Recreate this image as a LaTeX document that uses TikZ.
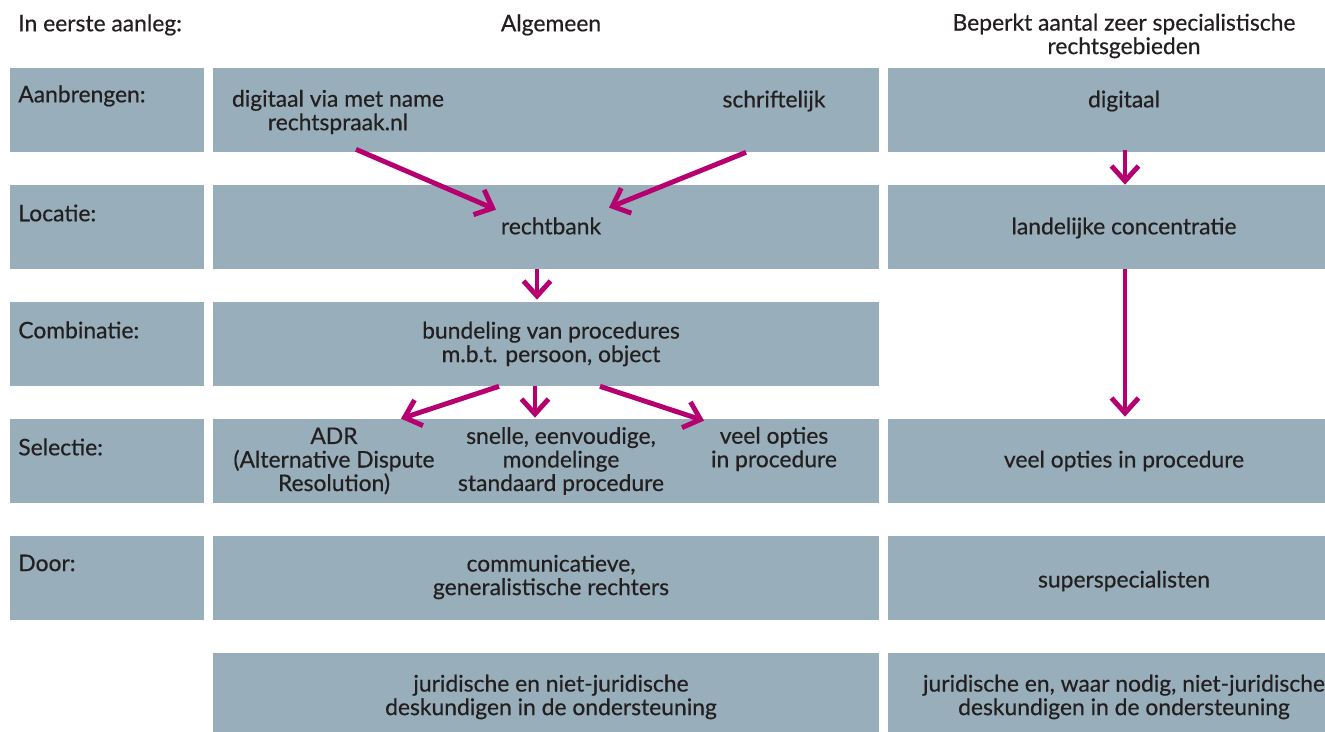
\documentclass[tikz,border=0pt]{standalone}
\usepackage{fontspec}
\setmainfont{Lato}[FakeBold=0.5]
\usepackage{xcolor}
\usepackage{tikz}
\usetikzlibrary{arrows.meta,calc}

\definecolor{vakblauw}{RGB}{152,175,187}
\definecolor{pijlroze}{RGB}{182,0,112}
\definecolor{tekstgrijs}{RGB}{35,31,32}

\begin{document}
\begin{tikzpicture}[x=0.02cm,y=-0.02cm]
        % Define the styles for boxes, texts and arrows
        \tikzstyle{vak}=[fill=vakblauw, inner sep=0pt, minimum height=1.68cm];
        \tikzstyle{vaklinks}=[vak, minimum width=3.88cm];
        \tikzstyle{vakmidden}=[vak, minimum width=13.32cm];
        \tikzstyle{vakrechts}=[vak, minimum width=8.74cm];
        \tikzstyle{tekst}=[text=tekstgrijs, align=center, inner sep=0pt, font=\fontsize{13}{13.4}\selectfont];
        \tikzstyle{rijnaam}=[tekst, anchor=west, align=left];
        \tikzstyle{pijl}=[draw=pijlroze, line width=2.8pt, -{Straight Barb[length=3mm,width=5.4mm]}];

        % Canvas
        \useasboundingbox (0,0) rectangle (1325,732);

        % Boxes of the left column
        \node[vaklinks] (l1) at (107,110) {};
        \node[vaklinks] (l2) at (107,227) {};
        \node[vaklinks] (l3) at (107,344) {};
        \node[vaklinks] (l4) at (107,461) {};
        \node[vaklinks] (l5) at (107,578) {};

        % Boxes of the middle column
        \node[vakmidden] (m1) at (546,110) {};
        \node[vakmidden] (m2) at (546,227) {};
        \node[vakmidden] (m3) at (546,344) {};
        \node[vakmidden] (m4) at (546,461) {};
        \node[vakmidden] (m5) at (546,578) {};
        \node[vakmidden] (m6) at (546,695) {};

        % Boxes of the right column (no box in the third row)
        \node[vakrechts] (r1) at (1106.5,110) {};
        \node[vakrechts] (r2) at (1106.5,227) {};
        \node[vakrechts] (r4) at (1106.5,461) {};
        \node[vakrechts] (r5) at (1106.5,578) {};
        \node[vakrechts] (r6) at (1106.5,695) {};

        % Headers
        \node[rijnaam] (kopLinks) at (18,25) {In eerste aanleg:};
        \node[tekst] (kopMidden) at (551,25) {Algemeen};
        \node[tekst] (kopRechts) at (1124,36) {Beperkt aantal zeer specialistische\\rechtsgebieden};

        % Row names
        \node[rijnaam] (naamAanbr) at (18,96) {Aanbrengen:};
        \node[rijnaam] (naamLocatie) at (18,213) {Locatie:};
        \node[rijnaam] (naamComb) at (18,330) {Combinatie:};
        \node[rijnaam] (naamSelectie) at (18,447) {Selectie:};
        \node[rijnaam] (naamDoor) at (18,563) {Door:};

        % Texts of the middle column
        \node[tekst] (digi) at (338,112) {digitaal via met name\\rechtspraak.nl};
        \node[tekst] (schrift) at (774,101) {schriftelijk};
        \node[tekst] (bank) at (551,226) {rechtbank};
        \node[tekst] (bundel) at (551,344) {bundeling van procedures\\m.b.t. persoon, object};
        \node[tekst] (adr) at (334,461) {ADR\\(Alternative Dispute\\Resolution)};
        \node[tekst] (snel) at (561,461) {snelle, eenvoudige,\\mondelinge\\standaard procedure};
        \node[tekst] (opties) at (774,449) {veel opties\\in procedure};
        \node[tekst] (communic) at (551,577) {communicatieve,\\generalistische rechters};
        \node[tekst] (deskM) at (551,697) {juridische en niet-juridische\\deskundigen in de ondersteuning};

        % Texts of the right column
        \node[tekst] (digR) at (1124,101) {digitaal};
        \node[tekst] (landelijk) at (1124,228) {landelijke concentratie};
        \node[tekst] (optiesR) at (1124,461) {veel opties in procedure};
        \node[tekst] (superspec) at (1124,581) {superspecialisten};
        \node[tekst] (deskR) at (1124,697) {juridische en, waar nodig, niet-juridische\\deskundigen in de ondersteuning};

        % Arrows in the middle column
        \draw[pijl] ($(m1.south)+(-190,-3)$) -- ($(m2.north)+(-50,25)$);
        \draw[pijl] ($(m1.south)+(200,0)$) -- ($(m2.north)+(63,23)$);
        \draw[pijl] ($(m2.south)+(-9,0)$) -- ($(m3.north)+(-9,-2)$);
        \draw[pijl] ($(m3.south)+(-47,0)$) -- ($(m4.north)+(-145,0)$);
        \draw[pijl] ($(m3.south)+(-11,0)$) -- ($(m4.north)+(-11,-1)$);
        \draw[pijl] ($(m3.south)+(54,0)$) -- ($(m4.north)+(158,2)$);

        % Arrows in the right column
        \draw[pijl] ($(digR |- r1.south)+(1,-2)$) -- ($(digR |- r2.north)+(1,0)$);
        \draw[pijl] ($(landelijk |- r2.south)+(1,0)$) -- ($(landelijk |- r4.north)+(1,-2)$);

\end{tikzpicture}
\end{document}
